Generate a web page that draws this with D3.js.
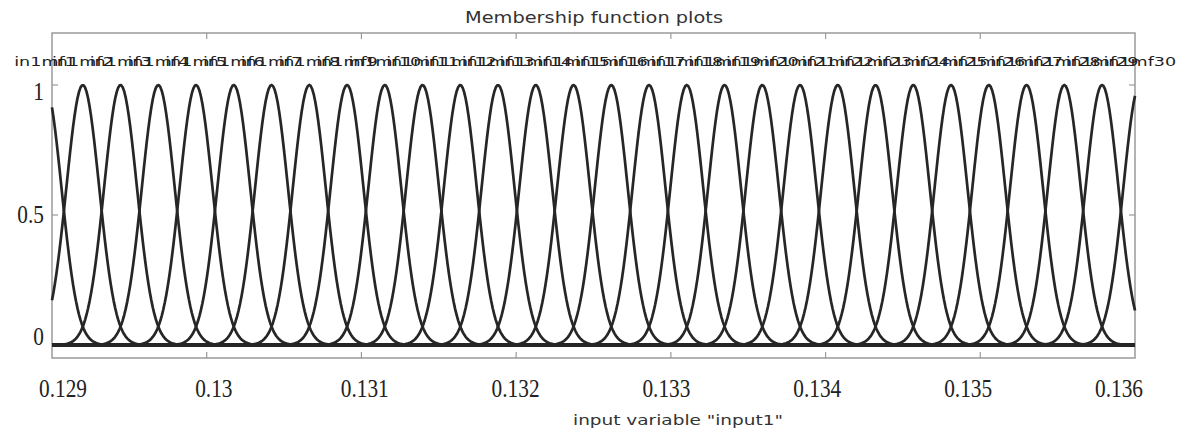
<!DOCTYPE html>
<html>
<head>
<meta charset="utf-8">
<script src="https://cdn.jsdelivr.net/npm/d3@7/dist/d3.min.js"></script>
<style>
  body { margin: 0; background: #fff; }
</style>
</head>
<body>
<div id="mf-plot"></div>
<script>
// membership function names and gaussian centres
const mfNames = ["in1mf1", "in1mf2", "in1mf3", "in1mf4", "in1mf5", "in1mf6", "in1mf7", "in1mf8", "in1mf9", "in1mf10",
  "in1mf11", "in1mf12", "in1mf13", "in1mf14", "in1mf15", "in1mf16", "in1mf17", "in1mf18", "in1mf19", "in1mf20",
  "in1mf21", "in1mf22", "in1mf23", "in1mf24", "in1mf25", "in1mf26", "in1mf27", "in1mf28", "in1mf29", "in1mf30"];
const mfCenters = [0.128955, 0.129199, 0.129443, 0.129687, 0.129931, 0.130175, 0.130419, 0.130663, 0.130907, 0.131151,
  0.131395, 0.131639, 0.131883, 0.132127, 0.132371, 0.132615, 0.132859, 0.133103, 0.133347, 0.133591,
  0.133835, 0.134079, 0.134323, 0.134567, 0.134811, 0.135055, 0.135299, 0.135543, 0.135787, 0.136031];
const mfSigma = 0.000106;

const xTicks = [0.129, 0.13, 0.131, 0.132, 0.133, 0.134, 0.135, 0.136];
const xTickLabels = ["0.129", "0.13", "0.131", "0.132", "0.133", "0.134", "0.135", "0.136"];
const yTicks = [0, 0.5, 1];
const yTickLabels = ["0", "0.5", "1"];

const inputRange = [0.129, 0.136];
const numPoints = 721; // sampling of each curve

const width = 1187, height = 433;
const frame = { left: 52, right: 1135, top: 33, bottom: 358 };

const svg = d3.select('div#mf-plot')
  .append('svg')
  .attr('width', width)
  .attr('height', height);

const x = d3.scaleLinear().domain(inputRange).range([frame.left, frame.right]);
const y = d3.scaleLinear().domain([-0.05, 1.2]).range([frame.bottom, frame.top]);

// the tick labels in the picture sit on their own slightly shifted scales
const xLabelPos = d3.scaleLinear().domain(inputRange).range([63, 1119]);
const yLabelPos = d3.scaleLinear().domain([0, 1]).range([345, 100]);

// Title
svg.append('text')
  .attr('x', 594)
  .attr('y', 23)
  .attr('text-anchor', 'middle')
  .attr('textLength', 258)
  .attr('lengthAdjust', 'spacingAndGlyphs')
  .style('font-family', 'DejaVu Sans')
  .style('font-size', '15px')
  .style('fill', '#333')
  .text('Membership function plots');

// Frame
svg.append('rect')
  .attr('x', frame.left)
  .attr('y', frame.top)
  .attr('width', frame.right - frame.left)
  .attr('height', frame.bottom - frame.top)
  .attr('fill', 'none')
  .attr('stroke', '#9a9a9a')
  .attr('stroke-width', 1.5);

// tick marks inside the frame
const tickG = svg.append('g').attr('stroke', '#9a9a9a').attr('stroke-width', 1.2);
xTicks.slice(1, -1).forEach(function (t) {
  tickG.append('line').attr('x1', x(t)).attr('x2', x(t)).attr('y1', frame.top).attr('y2', frame.top + 6);
  tickG.append('line').attr('x1', x(t)).attr('x2', x(t)).attr('y1', frame.bottom).attr('y2', frame.bottom - 6);
});
yTicks.slice(1).forEach(function (t) {
  tickG.append('line').attr('x1', frame.left).attr('x2', frame.left + 6).attr('y1', y(t)).attr('y2', y(t));
  tickG.append('line').attr('x1', frame.right).attr('x2', frame.right - 6).attr('y1', y(t)).attr('y2', y(t));
});

// Gaussian membership curves
const samples = d3.range(numPoints).map(function (i) {
  return inputRange[0] + i * (inputRange[1] - inputRange[0]) / (numPoints - 1);
});

const line = d3.line()
  .x(function (d) { return x(d[0]); })
  .y(function (d) { return y(d[1]); });

svg.append('g')
  .selectAll('path')
  .data(mfCenters)
  .enter()
  .append('path')
  .attr('fill', 'none')
  .attr('stroke', '#262626')
  .attr('stroke-width', 2.7)
  .attr('stroke-linejoin', 'round')
  .attr('d', function (c) {
    return line(samples.map(function (s) {
      return [s, Math.exp(-((s - c) * (s - c)) / (2 * mfSigma * mfSigma))];
    }));
  });

// MF labels (overlapping, as MATLAB draws them)
svg.append('g')
  .selectAll('text')
  .data(mfNames)
  .enter()
  .append('text')
  .attr('transform', function (d, i) { return 'translate(' + x(mfCenters[i]) + ',' + (y(1.1) + 7) + ') scale(1.35,1)'; })
  .attr('text-anchor', 'middle')
  .style('font-family', 'DejaVu Sans')
  .style('font-size', '13px')
  .style('fill', '#222')
  .text(function (d) { return d; });

// x tick labels
svg.append('g')
  .selectAll('text')
  .data(xTicks)
  .enter()
  .append('text')
  .attr('transform', function (d) { return 'translate(' + xLabelPos(d) + ',397) scale(0.82,1)'; })
  .attr('text-anchor', 'middle')
  .style('font-family', 'Liberation Serif')
  .style('font-size', '26px')
  .style('fill', '#222')
  .text(function (d, i) { return xTickLabels[i]; });

// y tick labels
svg.append('g')
  .selectAll('text')
  .data(yTicks)
  .enter()
  .append('text')
  .attr('transform', function (d) { return 'translate(44,' + yLabelPos(d) + ') scale(0.82,1)'; })
  .attr('text-anchor', 'end')
  .style('font-family', 'Liberation Serif')
  .style('font-size', '26px')
  .style('fill', '#222')
  .text(function (d, i) { return yTickLabels[i]; });

// x axis label
svg.append('text')
  .attr('x', 678)
  .attr('y', 425)
  .attr('text-anchor', 'middle')
  .attr('textLength', 210)
  .attr('lengthAdjust', 'spacingAndGlyphs')
  .style('font-family', 'DejaVu Sans')
  .style('font-size', '14px')
  .style('fill', '#333')
  .text('input variable "input1"');
</script>
</body>
</html>
